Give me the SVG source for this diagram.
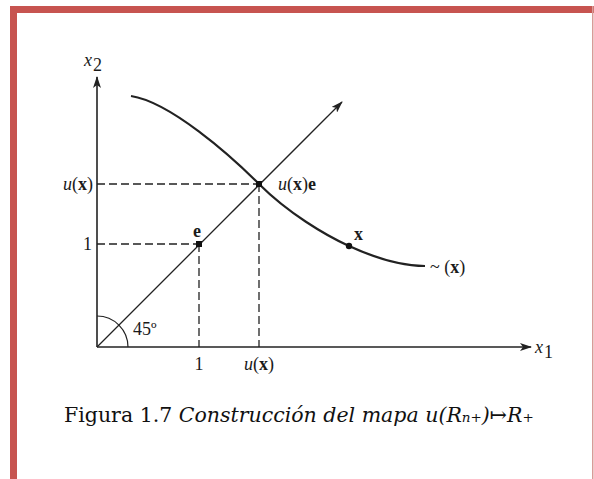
<svg xmlns="http://www.w3.org/2000/svg" width="594" height="479" viewBox="0 0 594 479">
<defs>
<style>
.lbl{font-family:"Liberation Serif","DejaVu Serif",serif;font-size:18px;fill:#1a1a1a}
.it{font-style:italic}
.b{font-weight:bold}
.axis{stroke:#222;stroke-width:1.6;fill:none}
.dash{stroke:#222;stroke-width:1.3;stroke-dasharray:8,4;fill:none}
.cap{font-family:"DejaVu Serif","Liberation Serif",serif;font-size:20.5px;fill:#111}
</style>
<marker id="ah" viewBox="0 0 12 8" refX="11" refY="4" markerWidth="12" markerHeight="8" markerUnits="userSpaceOnUse" orient="auto">
<path d="M0,0 L12,4 L0,8 L3,4 Z" fill="#222"/>
</marker>
</defs>
<rect x="0" y="0" width="594" height="479" fill="#fff"/>
<g id="frame">
<rect x="10" y="6" width="584" height="7" fill="#c75450"/>
<rect x="10" y="6" width="7" height="473" fill="#c75450"/>
<rect x="592" y="6" width="1.5" height="473" fill="#d99a98"/>
</g>
<g id="connectors">
<line class="axis" x1="97" y1="347" x2="97" y2="77" marker-end="url(#ah)"/>
<line class="axis" x1="97" y1="347" x2="531" y2="347" marker-end="url(#ah)"/>
<line x1="97" y1="347" x2="342" y2="102" stroke="#222" stroke-width="1.3" marker-end="url(#ah)"/>
<line class="dash" x1="97" y1="184" x2="259" y2="184"/>
<line class="dash" x1="97" y1="244" x2="199" y2="244"/>
<line class="dash" x1="199" y1="244" x2="199" y2="347"/>
<line class="dash" x1="259" y1="184" x2="259" y2="347"/>
<path d="M97,316 A31,31 0 0 1 128,347" fill="none" stroke="#222" stroke-width="1.2"/>
<path d="M131,96 C170,102 230,155 259,184 C288,213 325,235 349,246 C373,257 400,266 425,266" fill="none" stroke="#222" stroke-width="2.2"/>
</g>
<g id="node-e"><rect x="196" y="241" width="6" height="6" fill="#111"/><text class="lbl b" x="197" y="237" text-anchor="middle">e</text></g>
<g id="node-uxe"><rect x="256" y="181" width="6" height="6" fill="#111"/><text class="lbl" x="278" y="190"><tspan class="it">u</tspan>(<tspan class="b">x</tspan>)<tspan class="b">e</tspan></text></g>
<g id="node-x"><circle cx="349" cy="246" r="3.2" fill="#111"/><text class="lbl b" x="354" y="240">x</text></g>
<g id="labels">
<text class="lbl" x="430" y="273">~ (<tspan class="b">x</tspan>)</text>
<text class="lbl it" x="84" y="66">x</text><text class="lbl" x="93" y="71" font-size="14">2</text>
<text class="lbl it" x="535" y="353">x</text><text class="lbl" x="544" y="358" font-size="14">1</text>
<text class="lbl" x="93" y="190" text-anchor="end"><tspan class="it">u</tspan>(<tspan class="b">x</tspan>)</text>
<text class="lbl" x="92" y="250" text-anchor="end">1</text>
<text class="lbl" x="199" y="370" text-anchor="middle">1</text>
<text class="lbl" x="259" y="370" text-anchor="middle"><tspan class="it">u</tspan>(<tspan class="b">x</tspan>)</text>
<text class="lbl" x="133" y="335">45º</text>
</g>
<g id="caption">
<text class="cap" x="64" y="422">Figura 1.7 <tspan font-style="italic">Construcción del mapa u(R<tspan font-size="13.5">n+</tspan>)</tspan>↦<tspan font-style="italic">R<tspan font-size="13.5">+</tspan></tspan></text>
</g>
</svg>
